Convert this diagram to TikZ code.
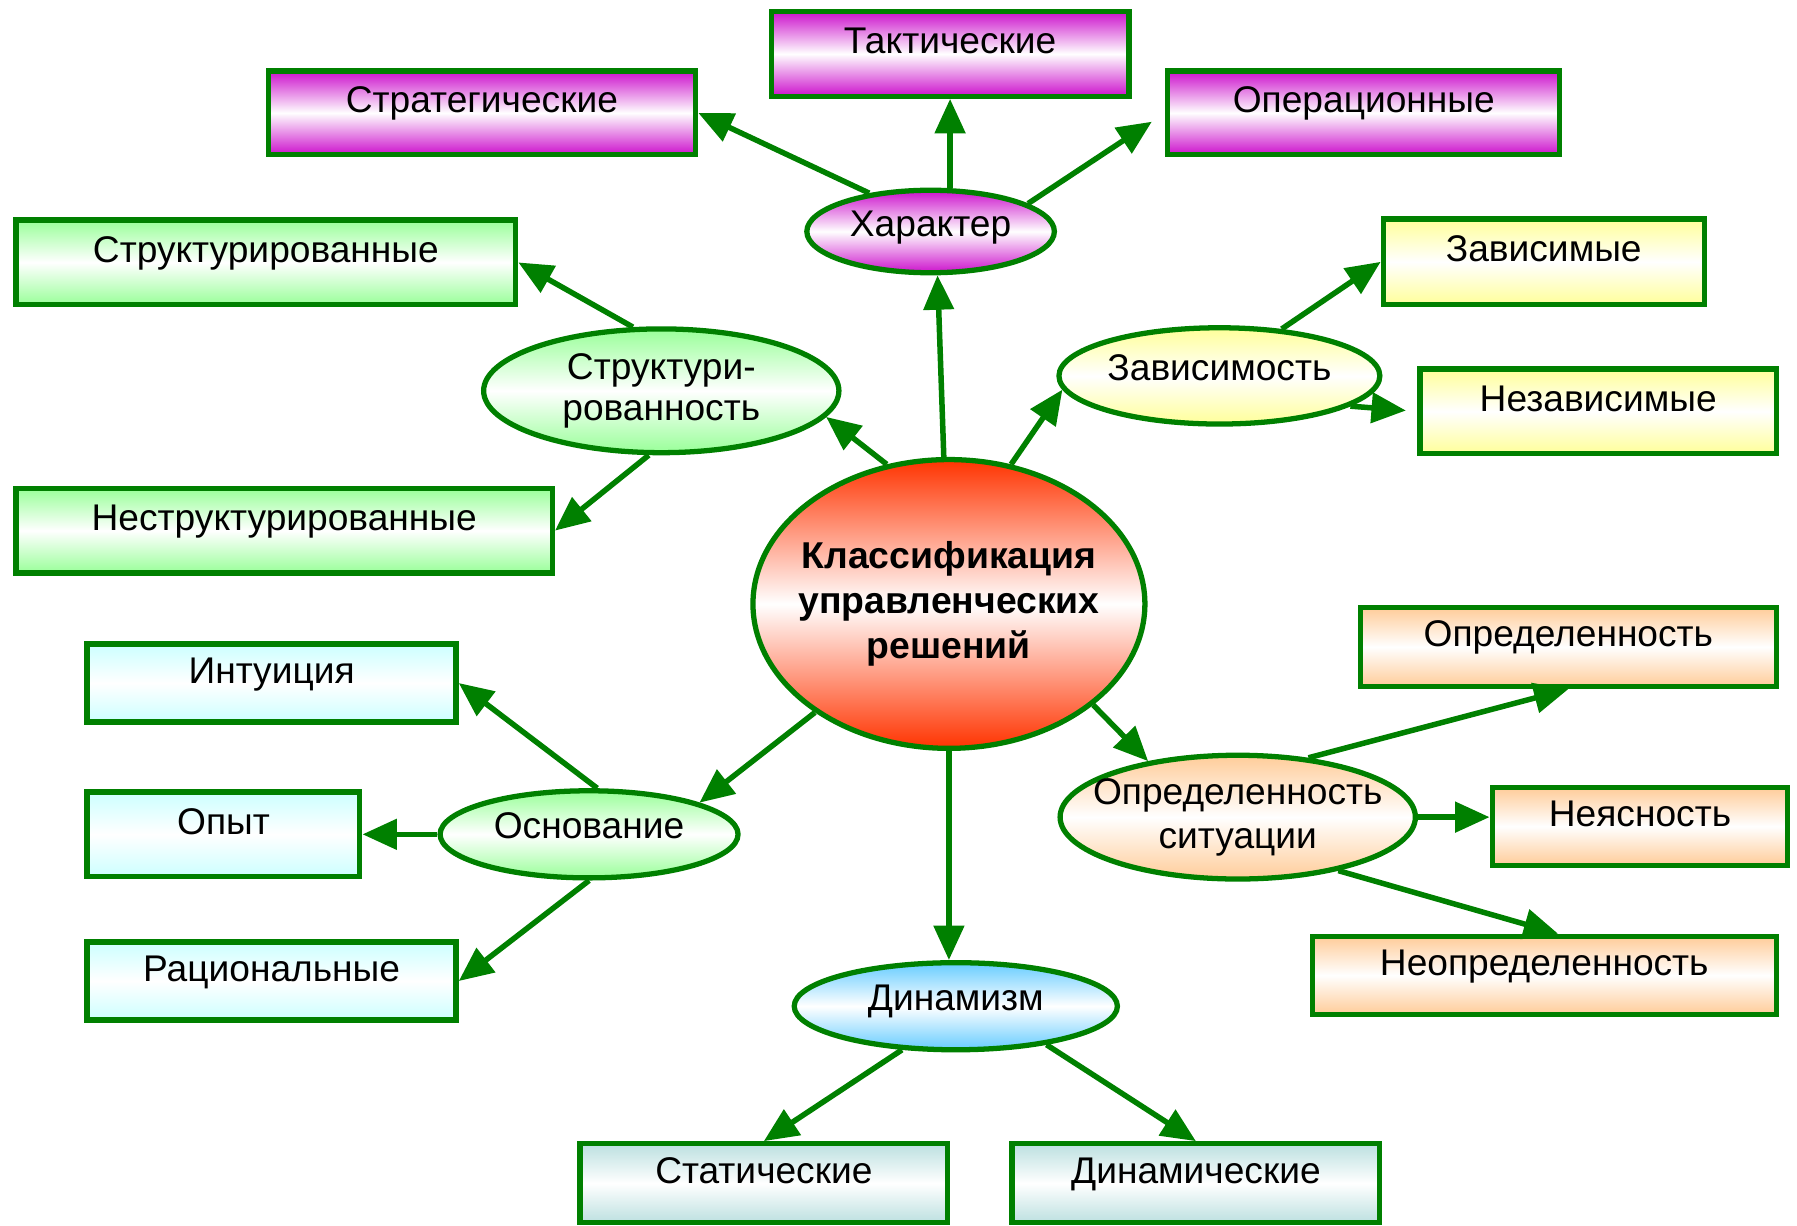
\documentclass[tikz,border=0pt]{standalone}
\usepackage{fontspec}
\setmainfont{Liberation Sans}
\usetikzlibrary{arrows.meta,shapes.geometric,calc}
\definecolor{lg}{RGB}{0,128,0}
\definecolor{cmag}{RGB}{204,17,204}
\definecolor{cgreen}{RGB}{153,255,153}
\definecolor{cyel}{RGB}{255,255,153}
\definecolor{ccyan}{RGB}{204,255,255}
\definecolor{cpeach}{RGB}{255,204,153}
\definecolor{cteal}{RGB}{188,224,224}
\definecolor{cblue}{RGB}{102,204,255}
\definecolor{cred}{RGB}{255,51,0}
\tikzset{
  grad/.style={top color=#1, bottom color=#1, middle color=white},
  bx/.style={draw=lg, line width=2.3pt, rectangle, inner sep=0pt,
     text height=11.5pt, text depth=11.5pt, font=\fontsize{16.2}{19}\selectfont},
  el/.style={draw=lg, line width=2.3pt, ellipse, inner sep=0pt,
     font=\fontsize{16.2}{18}\selectfont},
  el1/.style={el, text height=11.5pt, text depth=7.5pt},
  arr/.style={draw=lg, line width=2.4pt, -{Triangle[length=15pt,width=13pt]}}
}
\begin{document}
\begin{tikzpicture}[x=0.5pt,y=-0.5pt]
\useasboundingbox (0,0) rectangle (1568,1069);
% boxes
\node[bx, grad=cmag, minimum width=156pt, minimum height=37pt] (tact) at (829,47) {Тактические};
\node[bx, grad=cmag, minimum width=186.5pt, minimum height=36.5pt] (strat) at (420.5,98.5) {Стратегические};
\node[bx, grad=cmag, minimum width=171pt, minimum height=36.5pt] (oper) at (1190,98.5) {Операционные};
\node[bx, grad=cgreen, minimum width=218pt, minimum height=37pt] (sbox) at (232,229) {Структурированные};
\node[bx, grad=cgreen, minimum width=234pt, minimum height=37pt] (nbox) at (248,463) {Неструктурированные};
\node[bx, grad=cyel, minimum width=140pt, minimum height=37.5pt] (zav) at (1347,228.5) {Зависимые};
\node[bx, grad=cyel, minimum width=155.5pt, minimum height=37pt] (nez) at (1394.5,359) {Независимые};
\node[bx, grad=ccyan, minimum width=161pt, minimum height=34pt] (int) at (237,596) {Интуиция};
\node[bx, grad=ccyan, minimum width=119pt, minimum height=37pt] (opyt) at (195,728) {Опыт};
\node[bx, grad=ccyan, minimum width=161pt, minimum height=34pt] (rac) at (237,856) {Рациональные};
\node[bx, grad=cpeach, minimum width=181.5pt, minimum height=34.5pt] (opb) at (1368.5,564.5) {Определенность};
\node[bx, grad=cpeach, minimum width=129pt, minimum height=34pt] (ney) at (1431,721) {Неясность};
\node[bx, grad=cpeach, minimum width=202.5pt, minimum height=34pt] (neop) at (1347.5,851) {Неопределенность};
\node[bx, grad=cteal, minimum width=160.5pt, minimum height=34.5pt] (stat) at (666.5,1032.5) {Статические};
\node[bx, grad=cteal, minimum width=160.5pt, minimum height=34.5pt] (dinb) at (1043.5,1032.5) {Динамические};
% ellipses
\node[el1, grad=cmag, minimum width=108pt, minimum height=36pt] (char) at (812,202) {\makebox[0pt]{Характер}};
\node[el, grad=cgreen, align=center, minimum width=155pt, minimum height=54pt] (struct) at (577,341)
  {\makebox[0pt]{Структури-}\\\makebox[0pt]{рованность}};
\node[el1, grad=cyel, minimum width=140pt, minimum height=42pt] (zavis) at (1064,328) {\makebox[0pt]{Зависимость}};
\node[el, grad=cred, align=center, minimum width=171pt, minimum height=126pt,
  font=\bfseries\fontsize{16.3}{19.75}\selectfont] (center) at (828,527)
  {\makebox[0pt]{Классификация}\\\makebox[0pt]{управленческих}\\\makebox[0pt]{решений}};
\node[el1, grad=cgreen, minimum width=130pt, minimum height=38pt] (osn) at (514,728) {\makebox[0pt]{Основание}};
\node[el, grad=cpeach, align=center, minimum width=155pt, minimum height=54pt,
  font=\fontsize{16.2}{19}\selectfont] (ops) at (1080,713)
  {\makebox[0pt]{Определенность}\\\makebox[0pt]{ситуации}};
\node[el1, grad=cblue, minimum width=141pt, minimum height=38pt] (dyn) at (834,878) {\makebox[0pt]{Динамизм}};
% connectors
\draw[arr] (center.92) -- (char.279);
\draw[arr] (tact.south |- char.north) -- (tact.south);
\draw[arr] (char.148) -- (strat.east);
\draw[arr, shorten >=7pt] (char.16) -- (oper.west);
\draw[arr] (center.114) -- (struct.351);
\draw[arr] (struct.114) -- (sbox.east);
\draw[arr] (struct.259) -- (nbox.east);
\draw[arr] (center.66) -- (zavis.185);
\draw[arr] (zavis.37) -- (zav.west);
\draw[arr, shorten >=5pt] (zavis.347) -- (nez.west);
\draw[arr] (center.219) -- (osn.16);
\draw[arr] (osn.80) -- (int.east);
\draw[arr] (osn.west) -- (opyt.east);
\draw[arr] (osn.south) -- (rac.east);
\draw[arr] (center.325) -- (ops.148);
\draw[arr] (ops.40) -- (opb.south);
\draw[arr] (ops.east) -- (ops.east -| ney.west);
\draw[arr] (ops.332) -- ($(neop.north)+(12,0)$);
\draw[arr] (center.south) -- (center.south |- dyn.north);
\draw[arr] (dyn.219) -- (stat.north);
\draw[arr] (dyn.337) -- (dinb.north);
\end{tikzpicture}
\end{document}
